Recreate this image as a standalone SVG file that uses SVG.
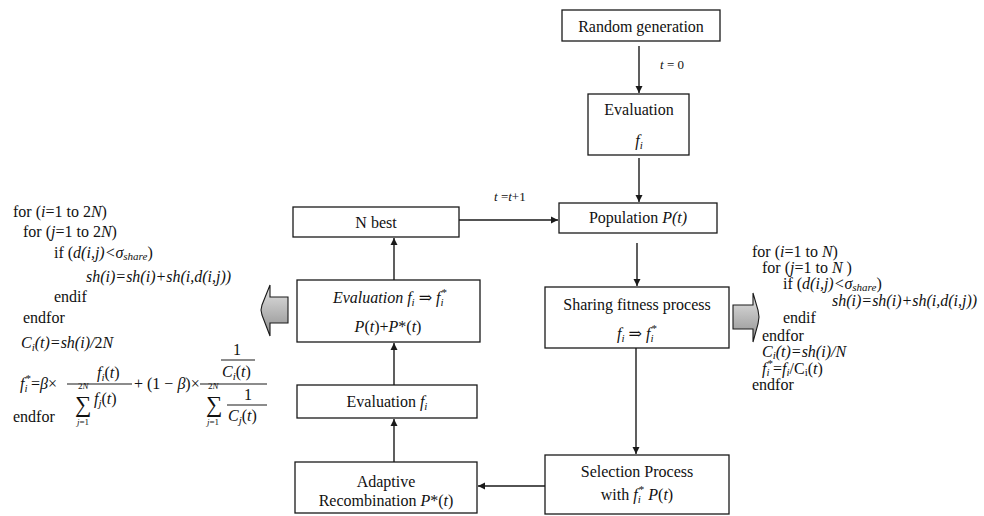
<svg xmlns="http://www.w3.org/2000/svg" width="984" height="516" viewBox="0 0 984 516">
  <style>
    text { font-family: "Liberation Serif", "DejaVu Serif", serif; font-size: 16px; fill: #111; }
    .c { text-anchor: middle; }
    .i { font-style: italic; }
    .s { font-size: 11px; }
    .sm { font-size: 9px; }
    .lbl { font-size: 13px; }
    .sum { font-size: 23px; }
    .box { fill: #fff; stroke: #1a1a1a; stroke-width: 1.3; }
    .ln { fill: none; stroke: #1a1a1a; stroke-width: 1.4; }
    .bar { stroke: #1a1a1a; stroke-width: 1.1; }
    .blk { fill: url(#gray); stroke: #1a1a1a; stroke-width: 1.1; }
  </style>
  <defs>
    <marker id="ah" viewBox="0 0 10 10" refX="10" refY="5" markerWidth="7" markerHeight="8" markerUnits="userSpaceOnUse" orient="auto">
      <path d="M0,0 L10,5 L0,10 z" fill="#1a1a1a"/>
    </marker>
    <linearGradient id="gray" x1="0" y1="0" x2="0" y2="1">
      <stop offset="0" stop-color="#e4e4e4"/>
      <stop offset="1" stop-color="#8e8e8e"/>
    </linearGradient>
  </defs>

  <rect width="984" height="516" fill="#fff"/>

  <!-- connectors -->
  <g id="connectors">
    <line class="ln" x1="639" y1="46" x2="639" y2="93" marker-end="url(#ah)"/>
    <line class="ln" x1="639" y1="158" x2="639" y2="202" marker-end="url(#ah)"/>
    <line class="ln" x1="637" y1="243" x2="637" y2="286" marker-end="url(#ah)"/>
    <line class="ln" x1="636" y1="348" x2="636" y2="454" marker-end="url(#ah)"/>
    <line class="ln" x1="545" y1="486" x2="478" y2="486" marker-end="url(#ah)"/>
    <line class="ln" x1="394" y1="462" x2="394" y2="419" marker-end="url(#ah)"/>
    <line class="ln" x1="394" y1="385" x2="394" y2="343" marker-end="url(#ah)"/>
    <line class="ln" x1="394" y1="280" x2="394" y2="238" marker-end="url(#ah)"/>
    <line class="ln" x1="459" y1="220" x2="558" y2="220" marker-end="url(#ah)"/>
    <text class="lbl" x="660" y="69"><tspan class="i">t</tspan> = 0</text>
    <text class="lbl" x="494" y="201"><tspan class="i">t</tspan> =<tspan class="i">t</tspan>+1</text>
    <!-- block arrows pointing to the sharing pseudo-code -->
    <path class="blk" d="M288,297 L270,297 L270,285 L262,305 L261,310 L262,315 L270,336 L270,323 L288,323 Z"/>
    <path class="blk" d="M733,305 L753,305 L753,293 L758,310 L759,317 L758,324 L753,342 L753,329 L733,329 Z"/>
  </g>

  <g id="random-generation">
    <rect class="box" x="562" y="10" width="158" height="31"/>
    <text class="c" x="641" y="32">Random generation</text>
  </g>

  <g id="evaluation-initial">
    <rect class="box" x="588" y="94" width="101" height="61"/>
    <text class="c" x="639" y="115">Evaluation</text>
    <text class="c i" x="639" y="146">f<tspan class="s" dy="3">i</tspan></text>
  </g>

  <g id="population">
    <rect class="box" x="559" y="203" width="158" height="30"/>
    <text class="c" x="638" y="223">Population <tspan class="i">P(t)</tspan></text>
  </g>

  <g id="sharing-fitness">
    <rect class="box" x="545" y="287" width="184" height="61"/>
    <text class="c" x="637" y="310">Sharing fitness process</text>
    <text class="c" x="637" y="339"><tspan class="i">f</tspan><tspan class="s i" dy="3">i</tspan><tspan dy="-3"> ⇒ </tspan><tspan class="i">f</tspan><tspan class="s i" dy="3">i</tspan><tspan class="s" dx="-2" dy="-10">*</tspan><tspan dy="7"> </tspan></text>
  </g>

  <g id="selection">
    <rect class="box" x="545" y="455" width="184" height="59"/>
    <text class="c" x="637" y="477">Selection Process</text>
    <text class="c" x="637" y="500">with <tspan class="i">f</tspan><tspan class="s i" dy="3">i</tspan><tspan class="s" dx="-2" dy="-10">*</tspan><tspan dy="7">   </tspan><tspan class="i">P</tspan>(<tspan class="i">t</tspan>)</text>
  </g>

  <g id="adaptive-recombination">
    <rect class="box" x="295" y="462" width="182" height="51"/>
    <text class="c" x="386" y="487">Adaptive</text>
    <text class="c" x="386" y="506">Recombination  <tspan class="i">P</tspan>*(<tspan class="i">t</tspan>)</text>
  </g>

  <g id="evaluation-offspring">
    <rect class="box" x="297" y="385" width="180" height="33"/>
    <text class="c" x="387" y="407">Evaluation  <tspan class="i">f</tspan><tspan class="s i" dy="3">i</tspan><tspan dy="-3"> </tspan></text>
  </g>

  <g id="evaluation-shared">
    <rect class="box" x="297" y="280" width="183" height="62"/>
    <text class="c" x="390" y="303"><tspan class="i">Evaluation</tspan>  <tspan class="i">f</tspan><tspan class="s i" dy="3">i</tspan><tspan dy="-3"> ⇒ </tspan><tspan class="i">f</tspan><tspan class="s i" dy="3">i</tspan><tspan class="s" dx="-2" dy="-10">*</tspan><tspan dy="7"> </tspan></text>
    <text class="c" x="388" y="332"><tspan class="i">P</tspan>(<tspan class="i">t</tspan>)+<tspan class="i">P</tspan>*(<tspan class="i">t</tspan>)</text>
  </g>

  <g id="n-best">
    <rect class="box" x="293" y="207" width="166" height="30"/>
    <text class="c" x="376" y="228">N best</text>
  </g>

  <!-- pseudo-code: sharing over the merged 2N population -->
  <g id="code-merged">
    <text x="13" y="217">for (<tspan class="i">i</tspan>=1 to 2<tspan class="i">N</tspan>)</text>
    <text x="23" y="237">for (<tspan class="i">j</tspan>=1 to 2<tspan class="i">N</tspan>)</text>
    <text x="54" y="258">if (<tspan class="i">d(i,j)&lt;σ</tspan><tspan class="s i" dy="2">share</tspan><tspan dy="-2">)</tspan></text>
    <text x="86" y="282" class="i">sh(i)=sh(i)+sh(i,d(i,j))</text>
    <text x="54" y="302">endif</text>
    <text x="23" y="323">endfor</text>
    <text x="21" y="348"><tspan class="i">C</tspan><tspan class="s i" dy="3">i</tspan><tspan class="i" dy="-3">(t)=sh(i)/</tspan>2<tspan class="i">N</tspan></text>

    <!-- f_i* = beta * f_i / sum f_j + (1-beta) * (1/C_i) / sum 1/C_j -->
    <text x="20" y="389"><tspan class="i">f</tspan><tspan class="s i" dy="3">i</tspan><tspan class="s" dx="-2" dy="-10">*</tspan><tspan dy="7">=</tspan><tspan class="i">β</tspan>×</text>
    <line class="bar" x1="67" y1="384" x2="132" y2="384"/>
    <text x="97" y="378"><tspan class="i">f</tspan><tspan class="s i" dy="3">i</tspan><tspan dy="-3">(</tspan><tspan class="i">t</tspan>)</text>
    <text class="sum" x="75" y="412">∑</text>
    <text class="sm" x="78" y="389">2<tspan class="i">N</tspan></text>
    <text class="sm" x="77" y="425"><tspan class="i">j</tspan>=1</text>
    <text x="94" y="404"><tspan class="i">f</tspan><tspan class="s i" dy="3">j</tspan><tspan dy="-3">(</tspan><tspan class="i">t</tspan>)</text>

    <text x="134" y="389">+ (1 − <tspan class="i">β</tspan>)×</text>
    <line class="bar" x1="200" y1="384" x2="267" y2="384"/>
    <text x="233" y="355">1</text>
    <line class="bar" x1="221" y1="360" x2="255" y2="360"/>
    <text x="222" y="377"><tspan class="i">C</tspan><tspan class="s i" dy="3">i</tspan><tspan dy="-3">(</tspan><tspan class="i">t</tspan>)</text>
    <text class="sum" x="206" y="412">∑</text>
    <text class="sm" x="208" y="389">2<tspan class="i">N</tspan></text>
    <text class="sm" x="207" y="425"><tspan class="i">j</tspan>=1</text>
    <text x="244" y="400">1</text>
    <line class="bar" x1="227" y1="405" x2="267" y2="405"/>
    <text x="228" y="421"><tspan class="i">C</tspan><tspan class="s i" dy="3">j</tspan><tspan dy="-3">(</tspan><tspan class="i">t</tspan>)</text>
    <text x="13" y="422">endfor</text>
  </g>

  <!-- pseudo-code: sharing over the current N population -->
  <g id="code-population">
    <text x="752" y="257">for (<tspan class="i">i</tspan>=1 to <tspan class="i">N</tspan>)</text>
    <text x="762" y="273">for (<tspan class="i">j</tspan>=1 to <tspan class="i">N</tspan> )</text>
    <text x="783" y="289">if (<tspan class="i">d(i,j)&lt;σ</tspan><tspan class="s i" dy="2">share</tspan><tspan dy="-2">)</tspan></text>
    <text x="832" y="306" class="i">sh(i)=sh(i)+sh(i,d(i,j))</text>
    <text x="783" y="323">endif</text>
    <text x="762" y="341">endfor</text>
    <text x="762" y="357"><tspan class="i">C</tspan><tspan class="s i" dy="2">i</tspan><tspan class="i" dy="-2">(t)=sh(i)/N</tspan></text>
    <text x="762" y="374"><tspan class="i">f</tspan><tspan class="s i" dy="2">i</tspan><tspan class="s" dx="-2" dy="-9">*</tspan><tspan dy="7">=</tspan><tspan class="i">f</tspan><tspan class="s i" dy="2">i</tspan><tspan dy="-2">/C</tspan><tspan class="s" dy="2">i</tspan><tspan dy="-2">(</tspan><tspan class="i">t</tspan>)</text>
    <text x="752" y="390">endfor</text>
  </g>
</svg>
